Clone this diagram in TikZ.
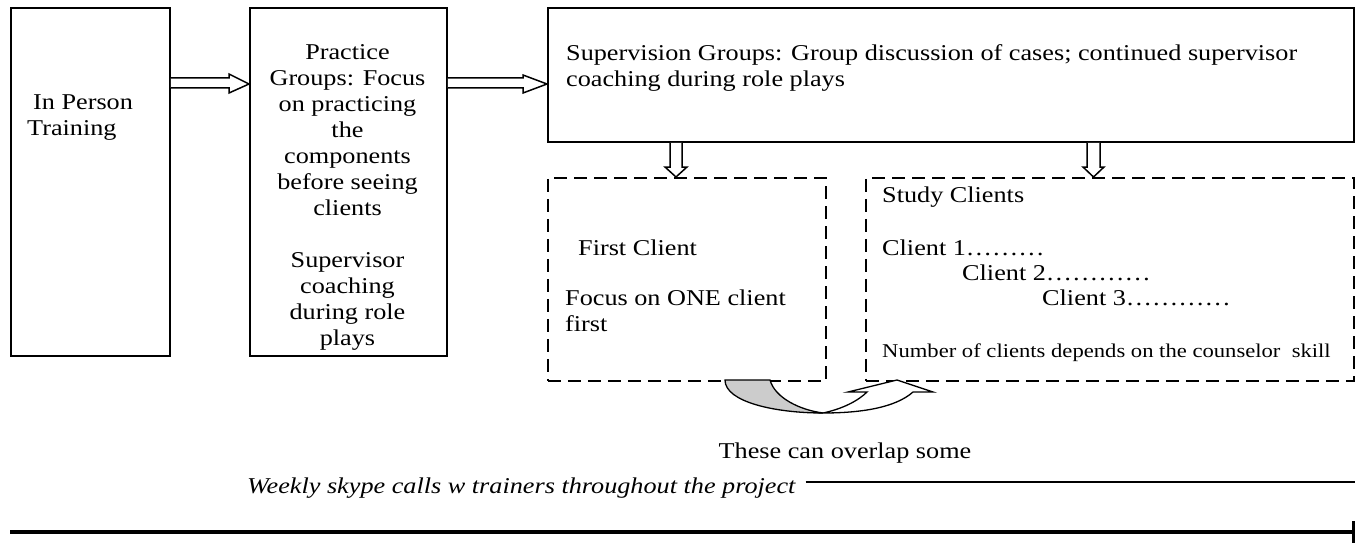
\documentclass[tikz,border=0pt]{standalone}
\usepackage{fontspec}
\setmainfont{Liberation Serif}[FakeStretch=1.16]
\usetikzlibrary{calc}
\newcommand\mainsize{\fontsize{22.6}{26}\selectfont}
\newcommand\smallsize{\fontsize{19.5}{22}\selectfont}
\tikzset{
  box/.style={draw, line width=1.8pt, anchor=north west, inner sep=0pt},
  dbox/.style={box, dash pattern=on 13pt off 7pt},
  txt/.style={inner sep=0pt, font=\mainsize},
  blockarrow/.style={draw, line width=1.5pt, fill=white, line join=miter},
  curved/.style={draw, line width=1.3pt},
}
\begin{document}
\begin{tikzpicture}[x=1pt, y=-1pt]
\useasboundingbox (0,0) rectangle (1355,543);
% boxes
\node[box, minimum width=159pt, minimum height=348pt] (b1) at (10,7) {};
\node[box, minimum width=197pt, minimum height=348pt] (b2) at (249,7) {};
\node[box, minimum width=806pt, minimum height=134pt] (b3) at (547,7) {};
\node[dbox, minimum width=278pt, minimum height=203pt] (d1) at (547,177) {};
\node[dbox, minimum width=488pt, minimum height=203pt] (d2) at (865,177) {};
% texts
\node[txt, anchor=north west, align=left] (t1) at (27,94.5) {\hspace*{6pt}In Person\\Training};
\node[txt, anchor=north, align=center] (t2) at (347.5,44.5)
  {Practice\\Groups: Focus\\on practicing\\the\\components\\before seeing\\clients\\[26pt]Supervisor\\coaching\\during role\\plays};
\node[txt, anchor=north west, align=left] (t3) at (566,44.5)
  {Supervision Groups: Group discussion of cases; continued supervisor\\coaching during role plays};
\node[txt, anchor=base west] (t4) at (578,255) {First Client};
\node[txt, anchor=north west, align=left] (t5) at (565,289.5) {Focus on ONE client\\first};
\node[txt, anchor=base west] (t6) at (882,202) {Study Clients};
\node[txt, anchor=base west] (c1) at (882,255) {Client 1………};
\node[txt, anchor=base west] (c2) at (962,280) {Client 2…………};
\node[txt, anchor=base west] (c3) at (1042,305) {Client 3…………};
\node[txt, font=\smallsize, anchor=base west] (t7) at (882,357) {Number of clients depends on the counselor\ \ skill};
\node[txt, anchor=base] (t8) at (845,458) {These can overlap some};
\node[txt, font=\mainsize\itshape, anchor=base west] (weekly) at (247,493) {Weekly skype calls w trainers throughout the project};
% block arrows
\draw[blockarrow] let \p1=(b1.east), \p2=(b2.west) in
  (\x1,-78pt) -- (\x2-20pt,-78pt) -- (\x2-20pt,-74pt) -- (\x2,-84pt) -- (\x2-20pt,-93pt) -- (\x2-20pt,-88pt) -- (\x1,-88pt);
\draw[blockarrow] let \p1=(b2.east), \p2=(b3.west) in
  (\x1,-78pt) -- (\x2-24pt,-78pt) -- (\x2-24pt,-75pt) -- (\x2,-84pt) -- (\x2-24pt,-93pt) -- (\x2-24pt,-88pt) -- (\x1,-88pt);
\draw[blockarrow] let \p1=(b3.south), \p2=(d1.north) in
  (670pt,\y1) -- (670pt,\y2+10pt) -- (665pt,\y2+10pt) -- (676pt,\y2) -- (687pt,\y2+10pt) -- (682pt,\y2+10pt) -- (682pt,\y1);
\draw[blockarrow] let \p1=(b3.south), \p2=(d2.north) in
  (1087pt,\y1) -- (1087pt,\y2+10pt) -- (1083pt,\y2+10pt) -- (1093.5pt,\y2) -- (1104pt,\y2+10pt) -- (1100pt,\y2+10pt) -- (1100pt,\y1);
% curved arrow between the two client boxes
\coordinate (ca) at (725,380);
\coordinate (cb) at (770,380);
\coordinate (cp) at (823,413);
\coordinate (ch) at (897,380);
\draw[curved, fill=black!20] (ca) .. controls (725,402) and (775,413) .. (cp)
  .. controls (800,410) and (775,398) .. (cb) -- cycle;
\draw[curved, fill=white] (cp) .. controls (842,409) and (858,401) .. (867,392)
  -- (848,392) -- (ch) -- (933,392) -- (913,392)
  .. controls (895,408) and (860,413) .. (cp) -- cycle;
% weekly line
\coordinate (wend) at (1355,482);
\draw[line width=1.5pt] (weekly.east |- wend) ++(10pt,0) -- (wend);
% timeline
\coordinate (tl0) at (10,532);
\coordinate (tl1) at (1353,532);
\draw[line width=4pt] (tl0) -- (tl1);
\draw[line width=2.5pt] (1353.5,521) -- (1353.5,543);
\end{tikzpicture}
\end{document}
